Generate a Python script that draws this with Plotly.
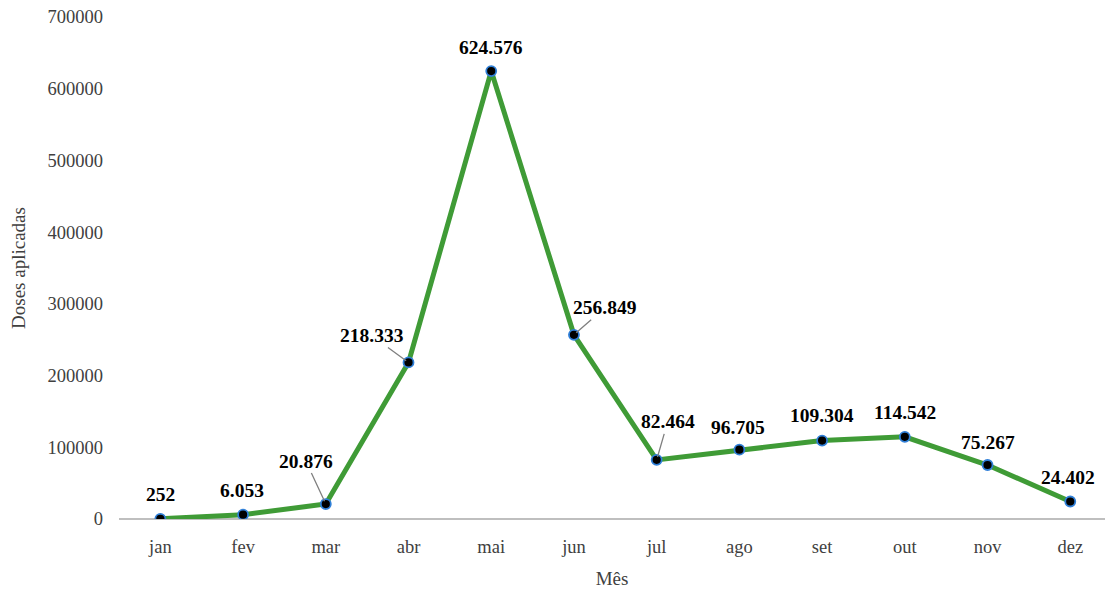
import plotly.graph_objects as go

meses = ["jan", "fev", "mar", "abr", "mai", "jun", "jul", "ago", "set", "out", "nov", "dez"]
doses = [252, 6053, 20876, 218333, 624576, 256849, 82464, 96705, 109304, 114542, 75267, 24402]
rotulos = ["252", "6.053", "20.876", "218.333", "624.576", "256.849", "82.464",
           "96.705", "109.304", "114.542", "75.267", "24.402"]
y_ticks = [0, 100000, 200000, 300000, 400000, 500000, 600000, 700000]

# label offsets (pixels, relative to point) and whether a leader line is drawn
offsets = [(0, -24, False), (-1, -24, False), (-20, -43, True), (-37, -27, True),
           (0, -24, False), (31, -27, True), (11, -38, True), (-1, -22, False),
           (0, -25, False), (0, -24, False), (0, -23, False), (-2, -24, False)]

fig = go.Figure()
fig.add_trace(go.Scatter(
    x=meses, y=doses, mode="lines+markers",
    line=dict(color="#3f9b36", width=5),
    marker=dict(color="black", size=10, line=dict(color="#2f7fd8", width=1.8)),
    hoverinfo="skip", showlegend=False,
))

lab_font = dict(family="Liberation Serif", size=19.5, color="black")
annotations = []
for m, v, t, (dx, dy, lead) in zip(meses, doses, rotulos, offsets):
    if lead:
        annotations.append(dict(
            x=m, y=v, text="<b>%s</b>" % t, showarrow=True, arrowhead=0,
            arrowwidth=1.3, arrowcolor="#7f7f7f", ax=dx, ay=dy, standoff=3,
            font=lab_font,
        ))
    else:
        annotations.append(dict(
            x=m, y=v, text="<b>%s</b>" % t, showarrow=False,
            xshift=dx, yshift=-dy, font=lab_font,
        ))

fig.update_layout(
    width=1105, height=589,
    margin=dict(l=119, r=0, t=17, b=70),
    paper_bgcolor="white", plot_bgcolor="white",
    font=dict(family="Liberation Serif", size=18.5, color="#404040"),
    annotations=annotations,
    xaxis=dict(
        type="category", range=[-0.5, 11.42],
        showgrid=False, zeroline=False, showline=False,
        ticks="", ticklabelstandoff=14, tickfont=dict(size=18.5, color="#404040"),
        title=dict(text="Mês", font=dict(size=19, color="#404040"), standoff=16),
    ),
    yaxis=dict(
        range=[0, 700000], tickvals=y_ticks, ticktext=[str(v) for v in y_ticks],
        showgrid=False, zeroline=True, zerolinecolor="#bfbfbf", zerolinewidth=1.5,
        showline=False, ticks="", ticklabelstandoff=15,
        tickfont=dict(size=18.5, color="#404040"),
        title=dict(text="Doses aplicadas", font=dict(size=19, color="#404040"), standoff=16),
    ),
)

fig.write_html("out.html")
